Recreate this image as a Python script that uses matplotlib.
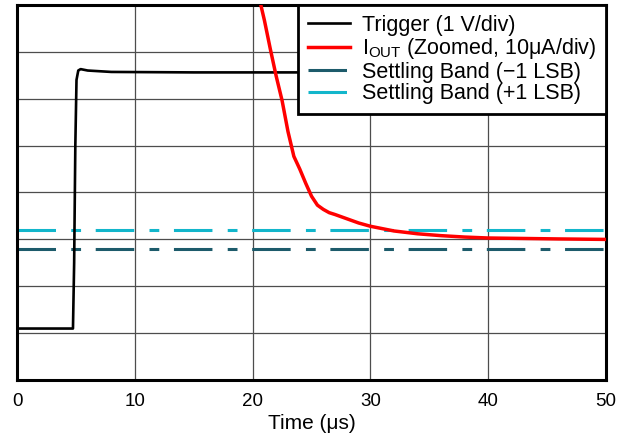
import matplotlib
matplotlib.use('Agg')
import matplotlib.pyplot as plt
import numpy as np

plt.rcParams['font.family'] = ['Liberation Sans', 'DejaVu Sans']

# trigger trace (in divisions)
trig_t = [0, 4.75, 4.85, 4.95, 5.05, 5.2, 5.4, 6.0, 8.0, 15, 25, 50]
trig_v = [1.10, 1.10, 2.5, 5.0, 6.4, 6.6, 6.63, 6.6, 6.57, 6.56, 6.56, 6.56]

# zoomed output current (in divisions)
iout_t = [20.6, 21.0, 21.5, 22.0, 22.5, 23.0, 23.5, 24.0, 24.5, 25.0, 25.5, 26.0, 26.5,
          27.0, 28.0, 29.0, 30.0, 31.0, 32.0, 34.0, 36.0, 38.0, 40.0, 43.0, 46.0, 50.0]
iout_v = [8.1, 7.67, 7.06, 6.48, 5.96, 5.3, 4.77, 4.5, 4.2, 3.92, 3.73, 3.64, 3.57,
          3.53, 3.44, 3.35, 3.28, 3.23, 3.18, 3.12, 3.08, 3.05, 3.03, 3.02, 3.01, 3.00]

band_lo = 2.8
band_hi = 3.2

fig = plt.figure(figsize=(6.3, 4.41), dpi=100)
ax = fig.add_axes([0.027, 0.138, 0.935, 0.851])

ax.plot(trig_t, trig_v, color='black', lw=1.9, label='Trigger (1 V/div)', zorder=3)
ax.plot(iout_t, iout_v, color='#FF0000', lw=2.5,
        label=r'I$_\mathregular{OUT}$ (Zoomed, 10μA/div)', zorder=4)
dash = (12.6, 5.0, 3.2, 4.8)
ax.plot([0, 50], [band_lo, band_lo], color='#1D5B6B', lw=2.2, dashes=dash,
        label='Settling Band (\u22121 LSB)', zorder=2)
ax.plot([0, 50], [band_hi, band_hi], color='#12B6CB', lw=2.2, dashes=dash,
        label='Settling Band (+1 LSB)', zorder=2)

ax.set_xlim(0, 50)
ax.set_ylim(0, 8)
ax.set_xticks([0, 10, 20, 30, 40, 50])
ax.set_yticks(np.arange(1, 8))
ax.set_yticklabels([])
ax.tick_params(axis='both', length=0, labelsize=13.5)
ax.tick_params(axis='x', pad=9)
ax.grid(True, color='0.3', lw=0.9)
ax.set_axisbelow(True)
for s in ax.spines.values():
    s.set_linewidth(2.2)
ax.set_xlabel('Time (μs)', fontsize=15, labelpad=3)

leg = ax.legend(loc='upper right', fontsize=15.5, borderaxespad=0, fancybox=False,
                framealpha=1, edgecolor='black', handlelength=1.95, handletextpad=0.56,
                labelspacing=0.03, borderpad=0.45)
leg.get_frame().set_linewidth(2.0)
leg.set_zorder(10)

fig.savefig('out.png', dpi=100)
